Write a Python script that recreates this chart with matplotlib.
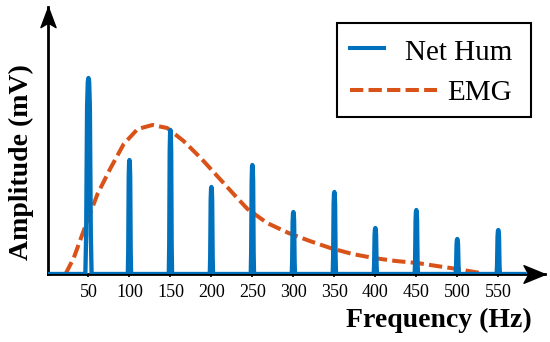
import numpy as np
import matplotlib.pyplot as plt
from matplotlib.path import Path
from matplotlib.lines import Line2D
from matplotlib.patches import Rectangle

# harmonic peaks of the mains hum (Hz, relative amplitude)
hum_freq = [50, 100, 150, 200, 250, 300, 350, 400, 450, 500, 550]
hum_amp = [0.98, 0.57, 0.72, 0.435, 0.545, 0.31, 0.41, 0.23, 0.32, 0.175, 0.22]
hum_halfwidth = [3.8, 2.0, 2.0, 2.0, 2.0, 2.0, 2.0, 2.0, 2.0, 2.0, 2.0]
hum_end = 583

# EMG spectrum envelope
emg_freq = [22, 32, 44, 61, 77, 93, 110, 128, 146, 166, 187, 207, 227, 244,
            268, 294, 320, 345, 372, 398, 425, 451, 475, 500, 528]
emg_amp = [0.0, 0.08, 0.215, 0.40, 0.53, 0.65, 0.725, 0.745, 0.73, 0.665,
           0.58, 0.49, 0.40, 0.325, 0.255, 0.205, 0.165, 0.13, 0.10, 0.08,
           0.065, 0.055, 0.04, 0.025, 0.005]

tick_freq = [50, 100, 150, 200, 250, 300, 350, 400, 450, 500, 550]

blue = '#0072BD'
orange = '#D95319'
serif = ['Liberation Serif', 'DejaVu Serif']

# peak outline template (fraction of halfwidth / amplitude)
tpl_x = [-1, -0.75, -0.45, -0.22, 0, 0.22, 0.45, 0.75, 1]
tpl_y = [0, 0.2, 0.85, 0.98, 1, 0.98, 0.85, 0.2, 0]

hx, hy = [0], [0]
for f, a, w in zip(hum_freq, hum_amp, hum_halfwidth):
    hx += [f + w * t for t in tpl_x]
    hy += [a * t for t in tpl_y]
hx.append(hum_end)
hy.append(0)

fig = plt.figure(figsize=(5.5, 3.42), dpi=100)
ax = fig.add_axes([47.5 / 550, 1 - 274 / 342, (545 - 47.5) / 550, 267 / 342])
ax.set_xlim(0, 607)
ax.set_ylim(0, 1.335)
ax.set_axisbelow(True)

ax.plot(emg_freq, emg_amp, color=orange, lw=2.9, dashes=(3.3, 1.3), zorder=2)
ax.plot(hx, hy, color=blue, lw=3.1, solid_joinstyle='round', solid_capstyle='round', zorder=3)

for s in ['top', 'right']:
    ax.spines[s].set_visible(False)
ax.spines['left'].set_linewidth(2)
ax.spines['bottom'].set_linewidth(2)

ax.set_yticks([])
ax.set_xticks(tick_freq)
ax.set_xticklabels([str(t) for t in tick_freq], family=serif, fontsize=13)
ax.tick_params(axis='x', direction='out', length=2.5, width=1.2, pad=5)

# arrow heads on both axes
head = Path([(0, 0), (-2, 0.82), (-1.55, 0), (-2, -0.82), (0, 0)],
            [Path.MOVETO, Path.LINETO, Path.LINETO, Path.LINETO, Path.CLOSEPOLY])
head_up = Path([(0, 0), (0.75, -2), (0, -1.55), (-0.75, -2), (0, 0)],
               [Path.MOVETO, Path.LINETO, Path.LINETO, Path.LINETO, Path.CLOSEPOLY])
ax.plot([1], [0], marker=head, ms=31, color='k', mec='k', transform=ax.transAxes, clip_on=False, zorder=5)
ax.plot([0], [1], marker=head_up, ms=29, color='k', mec='k', transform=ax.transAxes, clip_on=False, zorder=5)

fig.text(532 / 550, 1 - 327 / 342, 'Frequency (Hz)', ha='right', va='baseline',
         family=serif, fontsize=20, fontweight='bold')
fig.text(21 / 550, 1 - 162 / 342, 'Amplitude (mV)', ha='center', va='center', rotation=90,
         family=serif, fontsize=20, fontweight='bold')

# legend box
fig.patches.append(Rectangle((337 / 550, 1 - 117 / 342), 194 / 550, 94 / 342,
                             transform=fig.transFigure, fill=False, ec='k', lw=1.5))
fig.lines.append(Line2D([350 / 550, 384 / 550], [1 - 48 / 342] * 2, transform=fig.transFigure,
                        color=blue, lw=2.9))
fig.lines.append(Line2D([350 / 550, 437 / 550], [1 - 90 / 342] * 2, transform=fig.transFigure,
                        color=orange, lw=2.9, dashes=(3.3, 1.3)))
fig.text(512 / 550, 1 - 60 / 342, 'Net Hum', ha='right', va='baseline', family=serif, fontsize=21)
fig.text(512 / 550, 1 - 100 / 342, 'EMG', ha='right', va='baseline', family=serif, fontsize=21)

fig.savefig('out.png', dpi=100)
